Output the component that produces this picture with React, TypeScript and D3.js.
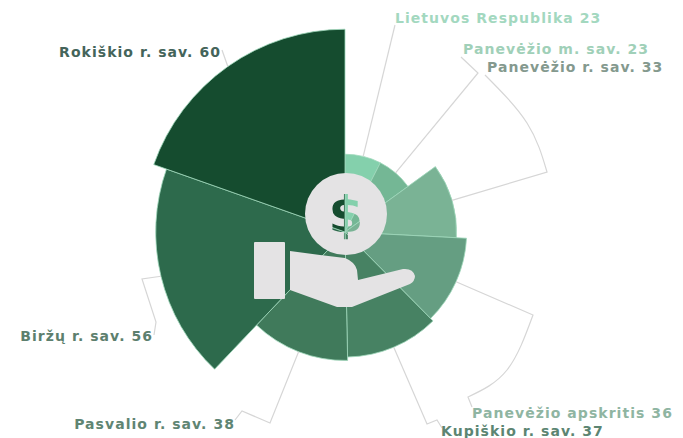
import React from "react";
import * as d3 from "d3";

const names = ["Lietuvos Respublika", "Panevėžio m. sav.", "Panevėžio r. sav.", "Panevėžio apskritis", "Kupiškio r. sav.", "Pasvalio r. sav.", "Biržų r. sav.", "Rokiškio r. sav."];
const values = [23, 23, 33, 36, 37, 38, 56, 60];
const colors = ["#84d0ac", "#74b795", "#7ab395", "#659e82", "#478263", "#407a5b", "#2d6a4c", "#154c2f"];
const labelColors = ["#a3d8bf", "#a0d0b8", "#84998e", "#8fb5a2", "#5c8572", "#5f8573", "#5d7f6e", "#44645a"];
const labelX = [395, 463, 487, 472, 441, 235, 153, 221];
const labelY = [23, 54, 72, 418, 436, 429, 341, 57];
const labelAnchor = ["start", "start", "start", "start", "start", "end", "end", "end"];
const leaderTails: [number, number][][] = [
  [[395, 25]],
  [[478, 73], [461, 57]],
  [[547, 172], [527, 123], [485, 75]],
  [[533, 315], [507, 370], [468, 397], [472, 407]],
  [[427, 424], [437, 420], [442, 428]],
  [[270, 423], [242, 411], [235, 420]],
  [[142, 279], [156, 322], [154, 335]],
  [[222, 50]],
];
const curved = [false, false, true, true, false, false, false, false];

const W = 683, H = 438, cx = 345, cy = 232, unit = 3.38;

export default function App() {
  const pie = d3.pie<number>().sort(null)(values);
  const r = d3.scaleLinear().domain([0, 60]).range([0, 60 * unit]);
  const arc = d3.arc<d3.PieArcDatum<number>>().innerRadius(0).outerRadius((d) => r(d.value));
  const line = d3.line();
  return (
    <svg width={W} height={H} style={{ position: "absolute", left: 0, top: 0 }}>
      <defs>
        <mask id="coin">
          <rect x={0} y={0} width={W} height={H} fill="#fff" />
          <text x={346} y={232} textAnchor="middle" fontFamily="DejaVu Sans" fontWeight="bold" fontSize={50} fill="#000">$</text>
        </mask>
      </defs>
      <g transform={`translate(${cx},${cy})`}>
        {pie.map((d, i) => (
          <path key={names[i]} d={arc(d) ?? ""} fill={colors[i]} stroke="#9fd8bb" strokeWidth={0.8} />
        ))}
      </g>
      {pie.map((d, i) => {
        const mid = (d.startAngle + d.endAngle) / 2;
        const R = r(d.value);
        const start: [number, number] = [cx + R * Math.sin(mid), cy - R * Math.cos(mid)];
        const pts = [start, ...leaderTails[i]];
        let path = line(pts) ?? "";
        if (curved[i]) {
          const tail = leaderTails[i];
          const curve = d3.line().curve(d3.curveNatural)(tail.slice(0, 3)) ?? "";
          path = `M${start[0]},${start[1]}L${tail[0][0]},${tail[0][1]}` + curve.replace(/^M[^CLc]*/, "") + (tail[3] ? `L${tail[3][0]},${tail[3][1]}` : "");
        }
        return <path key={names[i]} d={path} fill="none" stroke="#d6d6d6" strokeWidth={1.2} />;
      })}
      <circle cx={346} cy={214} r={41} fill="#e4e3e4" mask="url(#coin)" />
      <rect x={254} y={242} width={31} height={57} rx={1} fill="#e4e3e4" />
      <path
        d="M290,251 L320,255 L345,258 Q355,262 357,270 L358,280 L403,269 Q413,268 415,276 Q415,281 410,284 L352,307 L337,307 L290,290 Z"
        fill="#e4e3e4"
      />
      {names.map((n, i) => (
        <text
          key={n}
          x={labelX[i]}
          y={labelY[i]}
          textAnchor={labelAnchor[i] as "start" | "end"}
          fontFamily="DejaVu Sans"
          fontWeight="bold"
          fontSize={14}
          letterSpacing={1.05}
          fill={labelColors[i]}
        >
          {`${n} ${values[i]}`}
        </text>
      ))}
    </svg>
  );
}
